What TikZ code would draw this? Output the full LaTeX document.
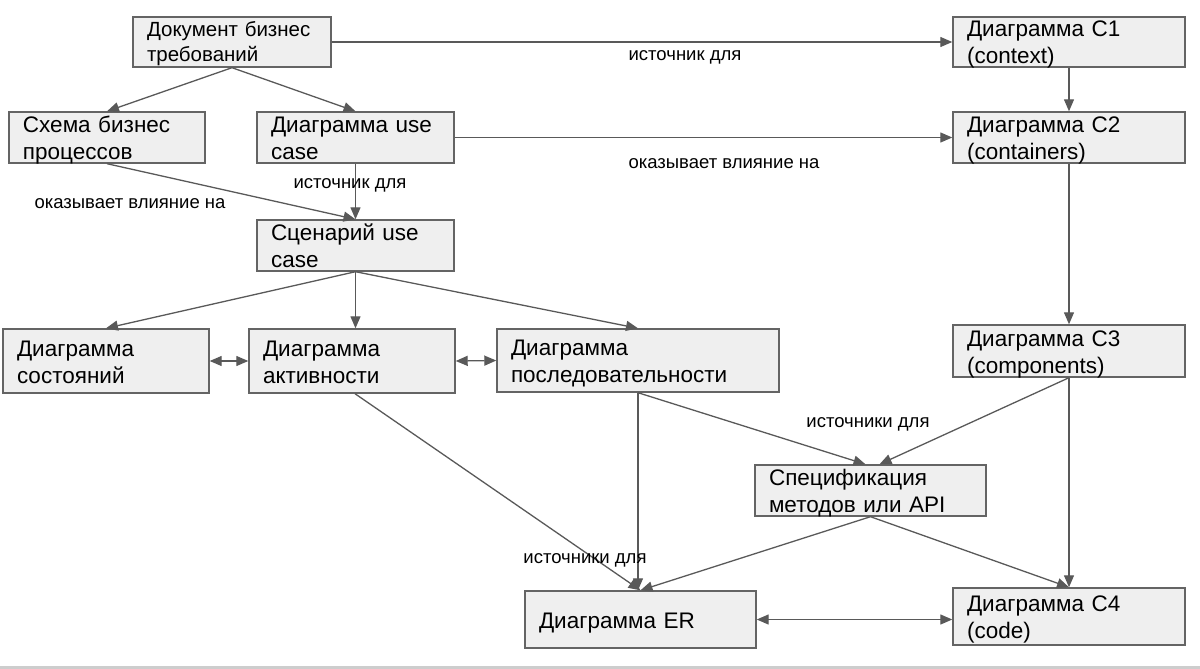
\documentclass[tikz,border=0pt]{standalone}
\usepackage{fontspec}
\setmainfont{Liberation Sans}
\usetikzlibrary{arrows.meta,positioning}

\definecolor{boxfill}{RGB}{239,239,239}
\definecolor{boxline}{RGB}{100,100,100}
\definecolor{wire}{RGB}{89,89,89}
\definecolor{rule}{RGB}{205,205,205}

\tikzset{
  blk/.style={draw=boxline, line width=1.4pt, fill=boxfill, align=left,
    inner xsep=14pt, inner ysep=0pt, font=\fontsize{22.5}{27}\selectfont,
    text height=20pt, text depth=30pt},
  lbl/.style={font=\fontsize{18.5}{21}\selectfont, inner sep=0pt},
  link/.style={draw=wire, line width=1.3pt, -{Triangle[length=12pt,width=10pt]}},
  twoway/.style={draw=wire, line width=1.3pt,
    {Triangle[length=12pt,width=10pt]}-{Triangle[length=12pt,width=10pt]}}
}

\begin{document}
\begin{tikzpicture}[x=1pt,y=-1pt]
\useasboundingbox (0,0) rectangle (1200,669);
\fill[rule] (0,666) rectangle (1200,669);

% Left column
\node[blk, text width=170pt, minimum height=50pt, font=\fontsize{20.5}{25}\selectfont] (doc) at (232,42) {\mbox{Документ бизнес}\\требований};
\node[blk, text width=168pt, minimum height=51pt] (bpm) at (107,137.5) {Схема бизнес\\процессов};
\node[blk, text width=169pt, minimum height=51pt] (uc) at (355.5,137.5) {\mbox{Диаграмма use}\\case};
\node[blk, text width=169pt, minimum height=51pt] (ucs) at (355.5,245.5) {\mbox{Сценарий use}\\case};

% Behaviour diagrams
\node[blk, text width=178pt, minimum height=64pt] (st) at (106,361) {Диаграмма\\состояний};
\node[blk, text width=178pt, minimum height=64pt] (act) at (352,361) {Диаграмма\\активности};
\node[blk, text width=254pt, minimum height=63pt] (seq) at (638,360.5) {Диаграмма\\последовательности};

% C4 column
\node[blk, text width=204pt, minimum height=50pt] (c1) at (1069,42) {Диаграмма C1\\(context)};
\node[blk, text width=204pt, minimum height=51pt] (c2) at (1069,137.5) {Диаграмма C2\\(containers)};
\node[blk, text width=204pt, minimum height=52pt] (c3) at (1069,351) {Диаграмма C3\\(components)};
\node[blk, text width=204pt, minimum height=57pt] (c4) at (1069,616.5) {Диаграмма C4\\(code)};

% Bottom
\node[blk, text width=203pt, minimum height=51pt] (api) at (870.5,490.5) {Спецификация\\методов или API};
\node[blk, text width=203pt, minimum height=57pt, text height=17pt, text depth=0pt] (er) at (640.5,619.5) {Диаграмма ER};

% Connections
\draw[link] (doc.south) -- (bpm.north);
\draw[link] (doc.south) -- (uc.north);
\draw[link] (doc.east) -- (c1.west);
\draw[link] (c1.south) -- (c2.north);
\draw[link] (uc.east) -- (c2.west);
\draw[link] (c2.south) -- (c3.north);
\draw[link] (bpm.south) -- (ucs.north);
\draw[link] (uc.south) -- (ucs.north);
\draw[link] (ucs.south) -- (st.north);
\draw[link] (ucs.south) -- (ucs.south |- act.north);
\draw[link] (ucs.south) -- (seq.north);
\draw[twoway] (st.east) -- (act.west);
\draw[twoway] (act.east) -- (seq.west);
\draw[link] ([xshift=3pt]act.south) -- (er.north);
\draw[link] (seq.south) -- (seq.south |- er.north);
\draw[link] (seq.south) -- ([xshift=-5pt]api.north);
\draw[link] (c3.south) -- ([xshift=9pt]api.north);
\draw[link] (c3.south) -- (c4.north);
\draw[link] (api.south) -- (er.north);
\draw[link] (api.south) -- (c4.north);
\draw[twoway] (er.east) -- (er.east -| c4.west);

% Labels
\node[lbl] (l1) at (685,57) {источник для};
\node[lbl] (l2) at (724,164) {оказывает влияние на};
\node[lbl] (l3) at (130,204) {оказывает влияние на};
\node[lbl] (l4) at (350,185) {источник для};
\node[lbl] (l5) at (868,424) {источники для};
\node[lbl] (l6) at (585,560) {источники для};
\end{tikzpicture}
\end{document}
